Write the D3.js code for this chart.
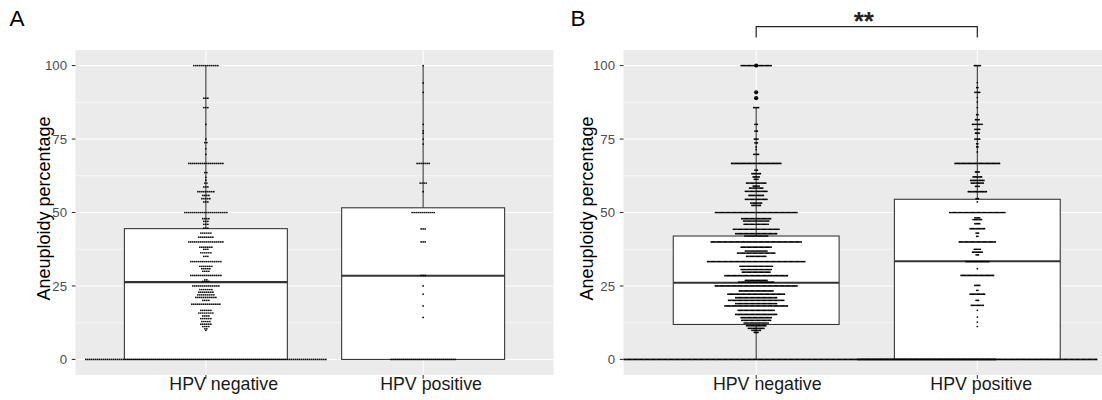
<!DOCTYPE html>
<html>
<head>
<meta charset="utf-8">
<script src="https://cdn.jsdelivr.net/npm/d3@7"></script>
<style>
  body { margin: 0; background: #fff; }
  svg { display: block; font-family: "Liberation Sans", Arial, sans-serif; }
</style>
</head>
<body>
<div id="chart"></div>
<script>

const categories = ["HPV negative", "HPV positive"]
const yTicks = [0, 25, 50, 75, 100]
const yMinor = [12.5, 37.5, 62.5, 87.5]

// panel A, dot rows: value of the row and how many dots sit in it
const aNegLevels = [0, 9.9, 10.4, 11.2, 12, 12.9, 13.9, 14.8, 15.8, 16.7, 18.8, 20.1, 21.1, 22, 22.9, 23.8, 25, 26.6, 27.1, 28.6, 30, 30.9, 31.7, 33.3, 35.1, 36.3, 37.5, 38.2, 40, 41.6, 43, 44.7, 46, 47, 47.9, 50, 53.6, 54.7, 55.8, 57.1, 58.7, 60, 61, 62, 63.6, 66.7, 69.8, 71.7, 73.8, 75, 80, 85.7, 88.9, 100]
const aNegCounts = [121, 1, 2, 4, 6, 5, 6, 4, 8, 6, 15, 4, 11, 9, 8, 7, 14, 4, 2, 16, 4, 5, 7, 16, 3, 6, 3, 7, 18, 8, 6, 3, 3, 3, 4, 22, 3, 5, 4, 9, 3, 2, 1, 1, 2, 18, 1, 1, 2, 1, 1, 3, 3, 13]
const aPosLevels = [0, 14.3, 18.2, 22.2, 25, 28.6, 40, 44.4, 50, 57.1, 60, 66.7, 73.3, 75, 77, 77.8, 80, 90.9, 94.1, 100]
const aPosCounts = [33, 1, 1, 1, 1, 3, 3, 3, 12, 1, 4, 7, 1, 1, 1, 1, 1, 1, 1, 1]

// panel B
const bNegLevels = [0, 9.2, 9.9, 10.6, 11.5, 12.4, 13.3, 14.2, 15.3, 16.7, 18.2, 19, 20.1, 21, 22.2, 23.3, 25, 26.3, 26.9, 28.5, 29.7, 30.6, 31.7, 33.3, 35.1, 36.2, 36.9, 38.2, 40, 42, 42.8, 44.3, 46, 47.1, 47.9, 50, 52.4, 53.2, 54.5, 55.8, 57.2, 58.3, 59, 60, 61.3, 62.1, 63.2, 64.4, 66.7, 69.8, 71.4, 72.3, 73.7, 75, 77.7, 80, 85.7, 88.9, 90.9, 100]
const bNegCounts = [400, 4, 8, 14, 17, 21, 25, 26, 35, 31, 53, 35, 47, 35, 48, 29, 69, 30, 19, 53, 24, 26, 28, 82, 17, 32, 19, 26, 76, 20, 35, 39, 21, 22, 25, 69, 8, 10, 19, 13, 19, 12, 6, 17, 4, 6, 8, 3, 42, 5, 1, 1, 3, 4, 3, 3, 5, 3, 2, 26]
const bPosLevels = [0, 11.2, 12.7, 14.4, 16.7, 18.4, 20.1, 22.2, 23.5, 25.2, 28.6, 30.9, 33.3, 35.6, 36.5, 37.5, 40, 41.9, 43, 44.5, 46.2, 47.6, 48.2, 50, 53.6, 54.7, 57.1, 58.9, 60, 60.9, 62.1, 63.8, 66.7, 70.6, 72.3, 73.4, 75, 77, 78.3, 80, 81.6, 83.3, 85.7, 87.6, 89.1, 90.9, 92.5, 94.2, 100]
const bPosCounts = [200, 1, 1, 1, 1, 11, 3, 13, 2, 5, 28, 1, 20, 3, 9, 6, 31, 2, 3, 13, 5, 8, 5, 47, 1, 3, 16, 4, 11, 12, 8, 4, 38, 1, 2, 2, 5, 4, 5, 9, 4, 2, 1, 1, 1, 5, 2, 1, 6]

// box statistics, one entry per category
const aQ1 = [0, 0]
const aMedian = [26.3, 28.5]
const aQ3 = [44.5, 51.6]
const aLow = [0, 0]
const aHigh = [100, 100]

const bQ1 = [11.9, 0]
const bMedian = [26.1, 33.4]
const bQ3 = [42.0, 54.5]
const bLow = [0, 0]
const bHigh = [85.7, 100]
const bOutliers = [[88.9, 90.9, 100], []]

const signifLabel = "**"

const width = 1102
const height = 400

const svg = d3.select("#chart")
    .append("svg")
    .attr("width", width)
    .attr("height", height)

function drawPanel(p) {
    const x = d3.scalePoint()
        .domain(categories)
        .range([p.left, p.right])
        .padding(0.6)
    const y = d3.scaleLinear()
        .domain([-5.3, 105.3])
        .range([p.bottom, p.top])
    const step = x.step()
    const boxW = step * 0.75

    const g = svg.append("g")

    svg.append("clipPath")
        .attr("id", "clip" + p.id)
        .append("rect")
        .attr("x", p.left).attr("y", p.top)
        .attr("width", p.right - p.left).attr("height", p.bottom - p.top)

    // panel background and grid
    g.append("rect")
        .attr("x", p.left).attr("y", p.top)
        .attr("width", p.right - p.left).attr("height", p.bottom - p.top)
        .attr("fill", "#EBEBEB")

    g.selectAll(".minor")
        .data(yMinor)
        .enter()
        .append("line")
        .attr("x1", p.left).attr("x2", p.right)
        .attr("y1", d => y(d)).attr("y2", d => y(d))
        .attr("stroke", "white").attr("stroke-width", 0.55)

    g.selectAll(".major")
        .data(yTicks)
        .enter()
        .append("line")
        .attr("x1", p.left).attr("x2", p.right)
        .attr("y1", d => y(d)).attr("y2", d => y(d))
        .attr("stroke", "white").attr("stroke-width", 1.1)

    g.selectAll(".vmajor")
        .data(categories)
        .enter()
        .append("line")
        .attr("x1", d => x(d)).attr("x2", d => x(d))
        .attr("y1", p.top).attr("y2", p.bottom)
        .attr("stroke", "white").attr("stroke-width", 1.1)

    // boxplots
    const boxes = categories.map((c, i) => ({
        cat: c, q1: p.q1[i], med: p.median[i], q3: p.q3[i],
        lo: p.low[i], hi: p.high[i], out: p.outliers[i]
    }))

    const bg = g.append("g").attr("clip-path", `url(#clip${p.id})`)

    bg.selectAll(".whisk")
        .data(boxes)
        .enter()
        .append("line")
        .attr("x1", d => x(d.cat)).attr("x2", d => x(d.cat))
        .attr("y1", d => y(d.lo)).attr("y2", d => y(d.hi))
        .attr("stroke", "#333333").attr("stroke-width", 1.07)

    bg.selectAll(".box")
        .data(boxes)
        .enter()
        .append("rect")
        .attr("x", d => x(d.cat) - boxW / 2)
        .attr("width", boxW)
        .attr("y", d => y(d.q3))
        .attr("height", d => y(d.q1) - y(d.q3))
        .attr("fill", "white")
        .attr("stroke", "#333333").attr("stroke-width", 1.07)

    bg.selectAll(".med")
        .data(boxes)
        .enter()
        .append("line")
        .attr("x1", d => x(d.cat) - boxW / 2).attr("x2", d => x(d.cat) + boxW / 2)
        .attr("y1", d => y(d.med)).attr("y2", d => y(d.med))
        .attr("stroke", "#333333").attr("stroke-width", 2.1)

    boxes.forEach(b => {
        bg.selectAll(null)
            .data(b.out)
            .enter()
            .append("circle")
            .attr("cx", x(b.cat))
            .attr("cy", d => y(d))
            .attr("r", 2.1)
            .attr("fill", "#111")
    })

    // dot plot rows, centred on the category
    categories.forEach((c, i) => {
        const levels = p.levels[i]
        const counts = p.counts[i]
        const dots = []
        levels.forEach((v, k) => {
            const n = counts[k]
            for (let j = 0; j < n; j++) {
                dots.push({ v: v, off: (j - (n - 1) / 2) * p.spacing })
            }
        })
        bg.selectAll(null)
            .data(dots)
            .enter()
            .append("circle")
            .attr("cx", d => x(c) + d.off)
            .attr("cy", d => y(d.v))
            .attr("r", p.r)
            .attr("fill", "black")
    })

    // axes
    g.selectAll(".ytick")
        .data(yTicks)
        .enter()
        .append("line")
        .attr("x1", p.left - 3.7).attr("x2", p.left)
        .attr("y1", d => y(d)).attr("y2", d => y(d))
        .attr("stroke", "#333333").attr("stroke-width", 1.07)

    g.selectAll(".ylab")
        .data(yTicks)
        .enter()
        .append("text")
        .attr("x", p.left - 8.5)
        .attr("y", d => y(d))
        .attr("dy", "0.36em")
        .attr("text-anchor", "end")
        .attr("font-size", 13.2)
        .attr("fill", "#4D4D4D")
        .text(d => d)

    g.selectAll(".xtick")
        .data(categories)
        .enter()
        .append("line")
        .attr("x1", d => x(d)).attr("x2", d => x(d))
        .attr("y1", p.bottom).attr("y2", p.bottom + 3.7)
        .attr("stroke", "#333333").attr("stroke-width", 1.07)

    g.selectAll(".xlab")
        .data(categories)
        .enter()
        .append("text")
        .attr("x", (d, i) => x(d) - p.labelShift[i])
        .attr("y", 389.5)
        .attr("font-size", 17.8)
        .attr("fill", "#1A1A1A")
        .text(d => d)

    g.append("text")
        .attr("transform", `translate(${p.titleX},${(p.top + p.bottom) / 2 - 4}) rotate(-90)`)
        .attr("text-anchor", "middle")
        .attr("font-size", 18)
        .attr("fill", "black")
        .text("Aneuploidy percentage")

    g.append("text")
        .attr("x", p.tagX)
        .attr("y", 26)
        .attr("font-size", 22.5)
        .attr("fill", "black")
        .text(p.id)

    return { x, y }
}

drawPanel({
    id: "A", left: 75.5, right: 553.5, top: 50, bottom: 375,
    titleX: 49.5, tagX: 9.5,
    spacing: 2, r: 0.85, labelShift: [36.5, 43],
    levels: [aNegLevels, aPosLevels], counts: [aNegCounts, aPosCounts],
    q1: aQ1, median: aMedian, q3: aQ3, low: aLow, high: aHigh,
    outliers: [[], []]
})

const pb = drawPanel({
    id: "B", left: 623.5, right: 1110, top: 50, bottom: 375,
    titleX: 592.5, tagX: 570.5,
    spacing: 1.2, r: 0.85, labelShift: [43.3, 47],
    levels: [bNegLevels, bPosLevels], counts: [bNegCounts, bPosCounts],
    q1: bQ1, median: bMedian, q3: bQ3, low: bLow, high: bHigh,
    outliers: bOutliers
})

// significance bracket between the two groups of panel B
const bx1 = pb.x(categories[0])
const bx2 = pb.x(categories[1])
svg.append("path")
    .attr("d", `M${bx1},37.5 V26.7 H${bx2} V37.5`)
    .attr("fill", "none")
    .attr("stroke", "#222")
    .attr("stroke-width", 1.2)

svg.append("text")
    .attr("x", (bx1 + bx2) / 2 - 3)
    .attr("y", 30)
    .attr("text-anchor", "middle")
    .attr("font-size", 26)
    .attr("font-weight", "bold")
    .attr("fill", "#222")
    .text(signifLabel)

</script>
</body>
</html>
